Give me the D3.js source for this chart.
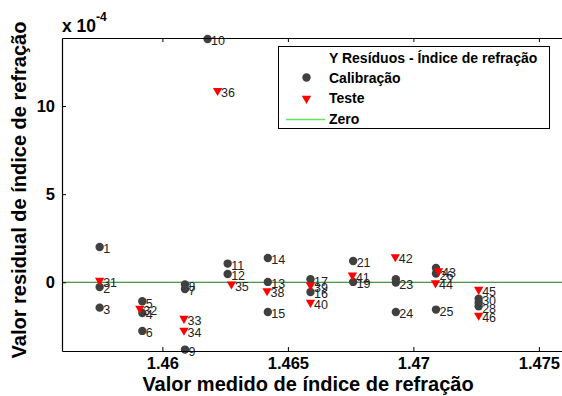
<!DOCTYPE html>
<html>
<head>
<meta charset="utf-8">
<script src="https://cdn.jsdelivr.net/npm/d3@7"></script>
<style>
  body { margin: 0; background: #fff; }
  svg text { font-family: Arial, "Liberation Sans", sans-serif; }
</style>
</head>
<body>
<svg id="chart"></svg>
<script>
// --- data (y values in units of 1e-4) ---
const calIds = ["1","2","3","4","5","6","7","8","9","10","11","12","13","14","15","16","17","19","21","","23","24","25","26","","28","","30"];
const calX = [1.4575,1.4575,1.4575,1.4592,1.4592,1.4592,1.4609,1.4609,1.4609,1.4618,1.4626,1.4626,1.4642,1.4642,1.4642,1.4659,1.4659,1.4676,1.4676,1.4693,1.4693,1.4693,1.4709,1.4709,1.4709,1.4726,1.4726,1.4726];
const calY = [2.0,-0.27,-1.44,-1.74,-1.08,-2.76,-0.38,-0.13,-3.82,13.8,1.06,0.47,0.02,1.38,-1.69,-0.55,0.17,0.02,1.21,0.17,-0.02,-1.69,-1.55,0.5,0.81,-1.36,-1.15,-0.93];

const testIds = ["31","32","33","34","35","36","38","39","40","41","42","43","44","45","46"];
const testX = [1.4575,1.4591,1.46086,1.46086,1.46275,1.4622,1.46417,1.4659,1.4659,1.46757,1.46928,1.4710,1.47088,1.4726,1.4726];
const testY = [0.1,-1.48,-2.06,-2.73,-0.11,10.87,-0.49,-0.17,-1.15,0.40,1.44,0.64,-0.04,-0.41,-1.88];

const xTicks = [1.46, 1.465, 1.47, 1.475];
const yTicks = [0, 5, 10];
const legendItems = ["Calibração", "Teste", "Zero"];

// --- setup ---
const width = 562, height = 396;
const margin = { left: 62, top: 38, right: -2, bottom: 45 };

const svg = d3.select("#chart").attr("width", width).attr("height", height);

const x = d3.scaleLinear().domain([1.456, 1.476]).range([margin.left, width - margin.right]);
const y = d3.scaleLinear().domain([-3.9, 13.86]).range([height - margin.bottom, margin.top]);

const calColor = "#404040";
const testColor = "#ff0000";

const plot = svg.append("g");

// zero line
plot.append("line")
  .attr("x1", x(1.456)).attr("x2", x(1.476))
  .attr("y1", y(0)).attr("y2", y(0))
  .attr("stroke", "#1a741a").attr("stroke-width", 1);

// frame: bottom, left, top (right side falls outside the window)
const xAxis = svg.append("g")
  .attr("transform", `translate(0,${y.range()[0]})`)
  .call(d3.axisBottom(x).tickValues(xTicks).tickSizeInner(-4).tickSizeOuter(0).tickPadding(6).tickFormat(d3.format("")));
const xAxisTop = svg.append("g")
  .attr("transform", `translate(0,${y.range()[1]})`)
  .call(d3.axisTop(x).tickValues(xTicks).tickSizeInner(-4).tickSizeOuter(0).tickFormat(""));
const yAxis = svg.append("g")
  .attr("transform", `translate(${x.range()[0]},0)`)
  .call(d3.axisLeft(y).tickValues(yTicks).tickSizeInner(-4).tickSizeOuter(0).tickPadding(7));

[xAxis, xAxisTop, yAxis].forEach(g => {
  g.select(".domain").attr("stroke", "#000").attr("stroke-width", 1.2);
  g.selectAll(".tick line").attr("stroke", "#000");
  g.selectAll(".tick text")
    .attr("fill", "#000")
    .style("font-size", "16.5px")
    .style("font-weight", "bold");
});

const calData = calX.map((v, i) => ({ x: v, y: calY[i], id: calIds[i] }));
const testData = testX.map((v, i) => ({ x: v, y: testY[i], id: testIds[i] }));

// calibration points
plot.selectAll("circle.cal")
  .data(calData)
  .enter()
  .append("circle")
  .attr("class", "cal")
  .attr("cx", d => x(d.x))
  .attr("cy", d => y(d.y))
  .attr("r", 4.2)
  .attr("fill", calColor);

// test points (down triangles)
const tri = d3.symbol().type(d3.symbolTriangle).size(38);
plot.selectAll("path.test")
  .data(testData)
  .enter()
  .append("path")
  .attr("class", "test")
  .attr("d", tri)
  .attr("transform", d => `translate(${x(d.x)},${y(d.y)}) rotate(180)`)
  .attr("fill", testColor);

// point labels
plot.selectAll("text.lbl")
  .data(calData.concat(testData).filter(d => d.id !== ""))
  .enter()
  .append("text")
  .attr("class", "lbl")
  .attr("x", d => x(d.x) + 3.5)
  .attr("y", d => y(d.y) + 6.3)
  .attr("fill", "#222")
  .style("font-size", "12.5px")
  .text(d => d.id);

// exponent
const expo = svg.append("text")
  .attr("x", 62).attr("y", 32)
  .style("font-size", "17.5px").style("font-weight", "bold");
expo.append("tspan").text("x 10");
expo.append("tspan").attr("dy", -11).style("font-size", "12px").text("-4");

// axis titles
svg.append("text")
  .attr("x", 308).attr("y", 391)
  .attr("text-anchor", "middle")
  .style("font-size", "20px").style("font-weight", "bold")
  .text("Valor medido de índice de refração");

svg.append("text")
  .attr("transform", "translate(26,190) rotate(-90)")
  .attr("text-anchor", "middle")
  .style("font-size", "20px").style("font-weight", "bold")
  .text("Valor residual de índice de refração");

// legend
const lg = svg.append("g");
lg.append("rect")
  .attr("x", 278.5).attr("y", 46.5)
  .attr("width", 271).attr("height", 82)
  .attr("fill", "#fff").attr("stroke", "#000").attr("stroke-width", 1);

lg.append("text")
  .attr("x", 329).attr("y", 63)
  .style("font-size", "14px").style("font-weight", "bold")
  .text("Y Resíduos - Índice de refração");

lg.selectAll("text.item")
  .data(legendItems)
  .enter()
  .append("text")
  .attr("class", "item")
  .attr("x", 329)
  .attr("y", (d, i) => 82.5 + i * 20.7)
  .style("font-size", "14px").style("font-weight", "bold")
  .text(d => d);

lg.append("circle").attr("cx", 306.5).attr("cy", 77.5).attr("r", 4.2).attr("fill", calColor);
lg.append("path").attr("d", tri).attr("transform", "translate(306.5,98.5) rotate(180)").attr("fill", testColor);
lg.append("line")
  .attr("x1", 286).attr("x2", 325).attr("y1", 119.5).attr("y2", 119.5)
  .attr("stroke", "#5fe85f").attr("stroke-width", 1.3);
</script>
</body>
</html>
